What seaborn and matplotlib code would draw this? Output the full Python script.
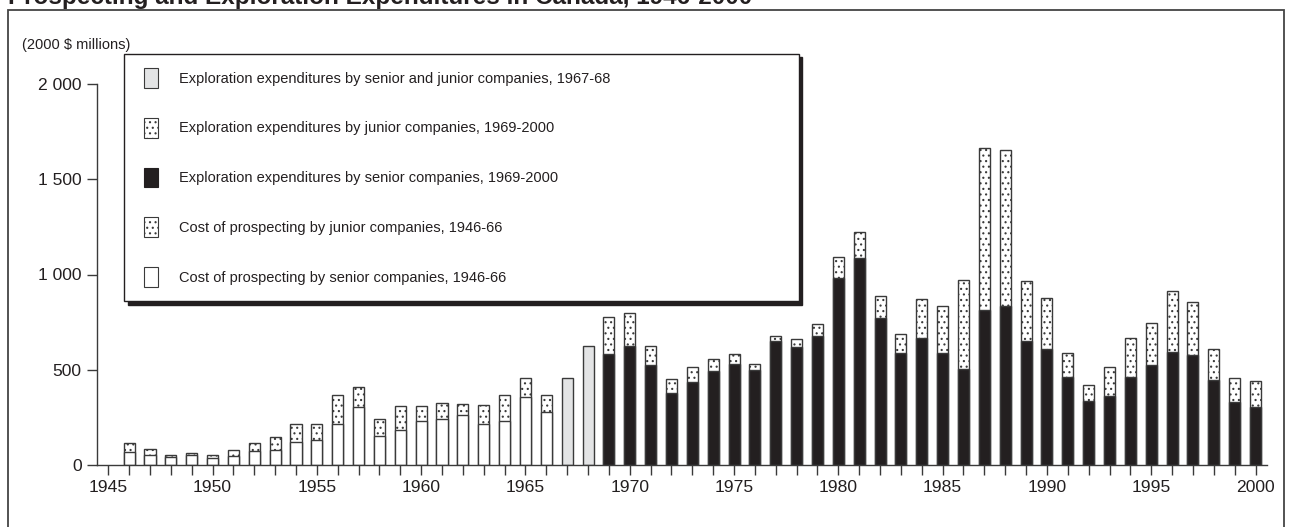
"""
Prospecting and exploration expenditures in Canada, 1946-2000
"""
import numpy as np
import matplotlib.pyplot as plt
import matplotlib.font_manager as fm
import seaborn as sns
from matplotlib.patches import Patch, Rectangle
from matplotlib.legend_handler import HandlerPatch
from matplotlib.ticker import FuncFormatter

# 1946-66: cost of prospecting (2000 $ millions)
years_early = list(range(1946, 1967))
senior_early = [67, 52, 44, 52, 35, 49, 73, 79, 121, 131, 213, 303, 154,
                182, 229, 243, 261, 213, 233, 357, 280]
junior_early = [47, 30, 10, 13, 16, 30, 41, 66, 94, 84, 156, 105, 86,
                129, 82, 84, 61, 100, 133, 98, 86]

# 1967-68: senior and junior combined
years_mid = [1967, 1968]
total_mid = [459, 627]

# 1969-2000: exploration expenditures
years_late = list(range(1969, 2001))
senior_late = [583, 625, 525, 380, 434, 492, 529, 497, 651, 621, 677, 983,
               1087, 773, 590, 667, 588, 504, 812, 835, 651, 609, 462, 336,
               362, 462, 527, 593, 579, 446, 331, 304]
junior_late = [196, 171, 100, 72, 79, 65, 52, 33, 28, 42, 62, 109,
               138, 114, 99, 203, 247, 466, 852, 817, 317, 269, 124, 84,
               151, 205, 218, 320, 279, 165, 126, 135]

legend_labels = [
    'Exploration expenditures by senior and junior companies, 1967-68',
    'Exploration expenditures by junior companies, 1969-2000',
    'Exploration expenditures by senior companies, 1969-2000',
    'Cost of prospecting by junior companies, 1946-66',
    'Cost of prospecting by senior companies, 1946-66',
]

INK = '#231f20'
GREY = '#e3e4e5'
EDGE = '#3a3a3a'
HATCH = '...'

sns.set_style('ticks')
plt.rcParams['font.family'] = ['Liberation Sans', 'DejaVu Sans']
plt.rcParams['hatch.linewidth'] = 0.8

# condensed face for legend and unit label, if it is there
try:
    fm.findfont('Liberation Sans Narrow', fallback_to_default=False)
    narrow, leg_size, unit_size = ['Liberation Sans Narrow', 'DejaVu Sans'], 12.0, 12.6
except ValueError:
    narrow, leg_size, unit_size = ['Liberation Sans', 'DejaVu Sans'], 10.5, 10.5

fig = plt.figure(figsize=(12.93, 5.27), dpi=100)
ax = fig.add_axes([97 / 1293, 1 - 465 / 527, 1170 / 1293, 381 / 527])

bar_kw = dict(native_scale=True, width=0.53, errorbar=None, saturation=1,
              edgecolor=EDGE, linewidth=1.0, ax=ax)

total_early = np.array(senior_early) + np.array(junior_early)
total_late = np.array(senior_late) + np.array(junior_late)

sns.barplot(x=years_early, y=total_early, color='white', hatch=HATCH, **bar_kw)
sns.barplot(x=years_early, y=senior_early, color='white', **bar_kw)
sns.barplot(x=years_mid, y=total_mid, color=GREY, **bar_kw)
sns.barplot(x=years_late, y=total_late, color='white', hatch=HATCH, **bar_kw)
sns.barplot(x=years_late, y=senior_late, color=INK, **bar_kw)

ax.set_xlim(1944.46, 2000.55)
ax.set_ylim(0, 2000)
ax.set_xticks(range(1945, 2001))
ax.set_xticklabels([str(y) if y % 5 == 0 else '' for y in range(1945, 2001)])
ax.set_yticks([0, 500, 1000, 1500, 2000])
ax.yaxis.set_major_formatter(FuncFormatter(lambda v, p: f'{int(v):,}'.replace(',', ' ')))
ax.set_xlabel('')
ax.set_ylabel('')
ax.tick_params(axis='both', labelsize=12.6, colors=INK, length=7, width=1.0, pad=4)
ax.tick_params(axis='x', color=EDGE)
ax.tick_params(axis='y', color=EDGE)
for side in ['top', 'right']:
    ax.spines[side].set_visible(False)
for side in ['left', 'bottom']:
    ax.spines[side].set_color(EDGE)
    ax.spines[side].set_linewidth(1.0)
ax.set_facecolor('none')

# legend, spacings given in pixels and turned into font-size units
fs_px = leg_size * 100 / 72
SHIFT = 4  # px of blank before each swatch


def inset_swatch(legend, orig_handle, xdescent, ydescent, width, height, fontsize):
    return Rectangle((-xdescent + SHIFT, -ydescent), width - SHIFT, height)


handles = [
    Patch(facecolor=GREY, edgecolor=EDGE, linewidth=0.8),
    Patch(facecolor='white', edgecolor=EDGE, hatch=HATCH, linewidth=0.8),
    Patch(facecolor=INK, edgecolor=INK, linewidth=0.8),
    Patch(facecolor='white', edgecolor=EDGE, hatch=HATCH, linewidth=0.8),
    Patch(facecolor='white', edgecolor=EDGE, linewidth=0.8),
]
leg = ax.legend(handles, legend_labels, loc='upper left',
                bbox_to_anchor=(117 / 1293, 1 - 52 / 527, 689 / 1293, 0.01),
                bbox_transform=fig.transFigure, mode='expand',
                prop={'family': narrow, 'size': leg_size},
                frameon=True, fancybox=False,
                handler_map={Patch: HandlerPatch(patch_func=inset_swatch)},
                borderpad=14 / fs_px,
                labelspacing=30 / fs_px,
                handlelength=(16 + SHIFT) / fs_px,
                handleheight=25 / fs_px,
                handletextpad=21 / fs_px,
                shadow={'ox': 2.5, 'oy': -2.5, 'color': INK, 'alpha': 1})
leg.get_frame().set_edgecolor(INK)
leg.get_frame().set_linewidth(1.0)
for t in leg.get_texts():
    t.set_color(INK)

# unit label, outer frame and clipped title
fig.text(22 / 1293, 1 - 45 / 527, '(2000 $ millions)', family=narrow,
         fontsize=unit_size, color=INK, va='center', ha='left')
fig.patches.append(Rectangle((8 / 1293, -0.05), 1276 / 1293, 1.05 - 10 / 527,
                             transform=fig.transFigure, fill=False,
                             edgecolor='#444444', linewidth=1.3))
fig.text(8 / 1293, 1 - 4 / 527,
         'Prospecting and Exploration Expenditures in Canada, 1946-2000',
         fontsize=17.5, fontweight='bold', color=INK, va='baseline', ha='left')

fig.savefig('out.png', dpi=100, facecolor='white')
plt.close(fig)
